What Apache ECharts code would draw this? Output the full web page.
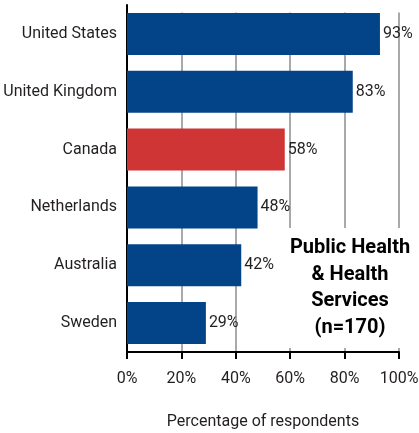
<!DOCTYPE html>
<html>
<head>
<meta charset="utf-8">
<script src="https://cdn.jsdelivr.net/npm/echarts@6/dist/echarts.min.js"></script>
<style>
  html, body { margin: 0; padding: 0; background: #fff; }
  #main { width: 419px; height: 433px; }
</style>
</head>
<body>
<div id="main"></div>
<script>
// data
var countries = ['United States', 'United Kingdom', 'Canada', 'Netherlands', 'Australia', 'Sweden'];
var percents = [93, 83, 58, 48, 42, 29];
var highlight = 'Canada';
var xTicks = [0, 20, 40, 60, 80, 100];
var noteLines = ['Public Health', '& Health', 'Services', '(n=170)'];

var FONT = 'Roboto, "Open Sans", sans-serif';
var BLUE = '#034388';
var RED = '#d03535';

var chart = echarts.init(document.getElementById('main'));

chart.setOption({
  animation: false,
  grid: { left: 127, right: 20, top: 5, bottom: 81, outerBoundsMode: 'none' },
  xAxis: {
    type: 'value',
    min: xTicks[0],
    max: xTicks[xTicks.length - 1],
    interval: 20,
    name: 'Percentage of respondents',
    nameLocation: 'middle',
    nameGap: 62,
    nameTextStyle: { color: '#231f20', fontSize: 16, fontFamily: FONT },
    axisLine: { show: true, lineStyle: { color: '#000', width: 2 } },
    axisTick: { show: true, length: 7, lineStyle: { color: '#000', width: 2 } },
    axisLabel: { formatter: '{value}%', margin: 19, color: '#231f20', fontSize: 16, fontFamily: FONT },
    splitLine: { show: true, lineStyle: { color: '#a7a9ac', width: 2 } }
  },
  yAxis: {
    type: 'category',
    inverse: true,
    data: countries,
    axisLine: { show: true, lineStyle: { color: '#000', width: 2 } },
    axisTick: { show: false },
    axisLabel: { margin: 10, color: '#231f20', fontSize: 16, fontFamily: FONT }
  },
  series: [{
    type: 'bar',
    barWidth: 42,
    data: percents.map(function (v, i) {
      return { value: v, itemStyle: { color: countries[i] === highlight ? RED : BLUE } };
    }),
    label: {
      show: true,
      position: 'right',
      distance: 3,
      formatter: '{c}%',
      color: '#231f20',
      fontSize: 16,
      fontFamily: FONT
    }
  }],
  graphic: [{
    // gridlines start at the top of the first bar in the original
    type: 'rect',
    left: 129,
    top: 0,
    shape: { width: 280, height: 12.5 },
    style: { fill: '#fff' },
    z: 10
  }, {
    type: 'rect',
    left: 283,
    top: 228,
    shape: { width: 130, height: 120 },
    style: { fill: '#fff' },
    z: 10
  }, {
    type: 'text',
    x: 350,
    y: 235,
    z: 11,
    style: {
      text: noteLines.join('\n'),
      align: 'center',
      verticalAlign: 'top',
      fill: '#000',
      font: 'bold 20px ' + FONT,
      lineHeight: 26.5
    }
  }]
});
</script>
</body>
</html>
